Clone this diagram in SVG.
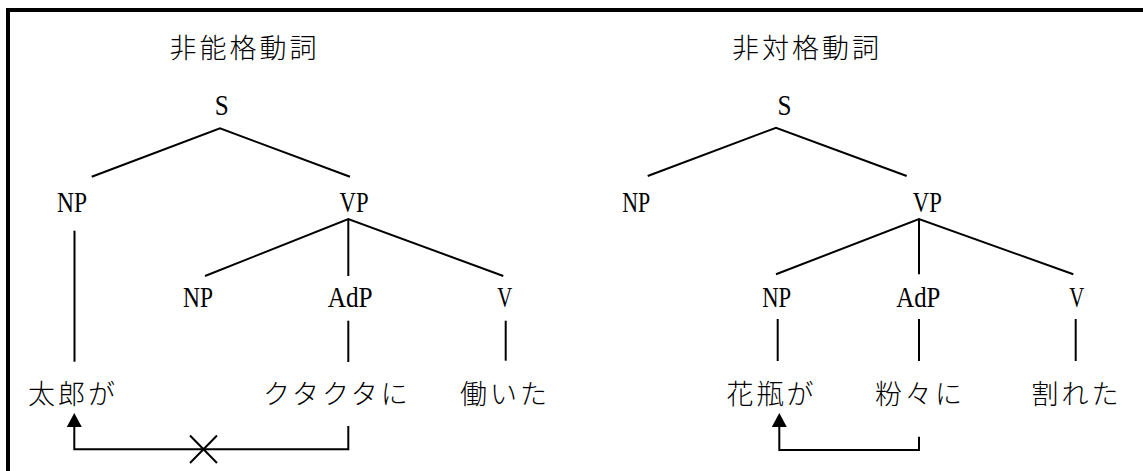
<svg xmlns="http://www.w3.org/2000/svg" width="1143" height="471" viewBox="0 0 1143 471">
<style>
.lat{font-family:"Liberation Serif","DejaVu Serif",serif;font-size:29px;fill:#000;text-anchor:middle}
.jp{font-family:"Noto Sans CJK JP","Noto Sans CJK SC",sans-serif;font-size:27px;fill:#000;letter-spacing:3px;font-weight:300}
.ln{stroke:#000;stroke-width:2;fill:none}
.frame{stroke:#000;stroke-width:4;fill:none}
</style>
<defs>
<marker id="ah" markerUnits="userSpaceOnUse" orient="auto" markerWidth="14" markerHeight="16" refX="0" refY="7.5" viewBox="0 0 14 15">
<path d="M0,0 L14,7.5 L0,15 z" fill="#000"/>
</marker>
</defs>
<rect width="1143" height="471" fill="#fff"/>
<path class="frame" d="M8,471 V10 H1143"/>

<g id="connectors">
<!-- left tree -->
<path class="ln" d="M91.7,176.7 L220,128.3 L350,176.7"/>
<path class="ln" d="M205,276 L348.3,219 L503.3,276"/>
<path class="ln" d="M348.3,219 V276"/>
<path class="ln" d="M74.5,230.7 V361.7"/>
<path class="ln" d="M348.3,320.7 V362"/>
<path class="ln" d="M505.7,320.7 V360.7"/>
<path class="ln" d="M348.3,426 V449.3 H74.3 V427" marker-end="url(#ah)"/>
<path class="ln" d="M190,435.5 L217,463 M190,463 L217,435.5"/>
<!-- right tree -->
<path class="ln" d="M647.7,176 L776,127.7 L906.7,176"/>
<path class="ln" d="M776,274.3 L919,219 L1073.3,274.3"/>
<path class="ln" d="M919,219 V274.3"/>
<path class="ln" d="M777.7,319 V361"/>
<path class="ln" d="M919,319 V361"/>
<path class="ln" d="M1075.7,319 V361"/>
<path class="ln" d="M919,436.7 V450 H779.3 V427" marker-end="url(#ah)"/>
</g>

<g id="title-unergative"><text class="jp" x="169.5" y="58.3">非能格動詞</text></g>
<g id="title-unaccusative"><text class="jp" x="732" y="58.3">非対格動詞</text></g>

<g id="L-S"><text class="lat" x="221.7" y="115" textLength="14" lengthAdjust="spacingAndGlyphs">S</text></g>
<g id="L-NP"><text class="lat" x="72" y="212" textLength="30" lengthAdjust="spacingAndGlyphs">NP</text></g>
<g id="L-VP"><text class="lat" x="354" y="212" textLength="29" lengthAdjust="spacingAndGlyphs">VP</text></g>
<g id="L-NP2"><text class="lat" x="198" y="307" textLength="30" lengthAdjust="spacingAndGlyphs">NP</text></g>
<g id="L-AdP"><text class="lat" x="350.2" y="307" textLength="45" lengthAdjust="spacingAndGlyphs">AdP</text></g>
<g id="L-V"><text class="lat" x="504.7" y="307" textLength="15" lengthAdjust="spacingAndGlyphs">V</text></g>
<g id="L-taro"><text class="jp" x="28" y="404.3">太郎が</text></g>
<g id="L-kutakuta"><text class="jp" x="263" y="404.3">クタクタに</text></g>
<g id="L-hataraita"><text class="jp" x="460" y="404.3">働いた</text></g>

<g id="R-S"><text class="lat" x="784.5" y="115" textLength="14" lengthAdjust="spacingAndGlyphs">S</text></g>
<g id="R-NP"><text class="lat" x="636.3" y="212" textLength="28" lengthAdjust="spacingAndGlyphs">NP</text></g>
<g id="R-VP"><text class="lat" x="927.3" y="212" textLength="29" lengthAdjust="spacingAndGlyphs">VP</text></g>
<g id="R-NP2"><text class="lat" x="776.7" y="307" textLength="29" lengthAdjust="spacingAndGlyphs">NP</text></g>
<g id="R-AdP"><text class="lat" x="918.3" y="307" textLength="44" lengthAdjust="spacingAndGlyphs">AdP</text></g>
<g id="R-V"><text class="lat" x="1076.7" y="307" textLength="15" lengthAdjust="spacingAndGlyphs">V</text></g>
<g id="R-kabin"><text class="jp" x="726.5" y="404.3">花瓶が</text></g>
<g id="R-konagona"><text class="jp" x="875" y="404.3">粉々に</text></g>
<g id="R-wareta"><text class="jp" x="1031.5" y="404.3">割れた</text></g>
</svg>
